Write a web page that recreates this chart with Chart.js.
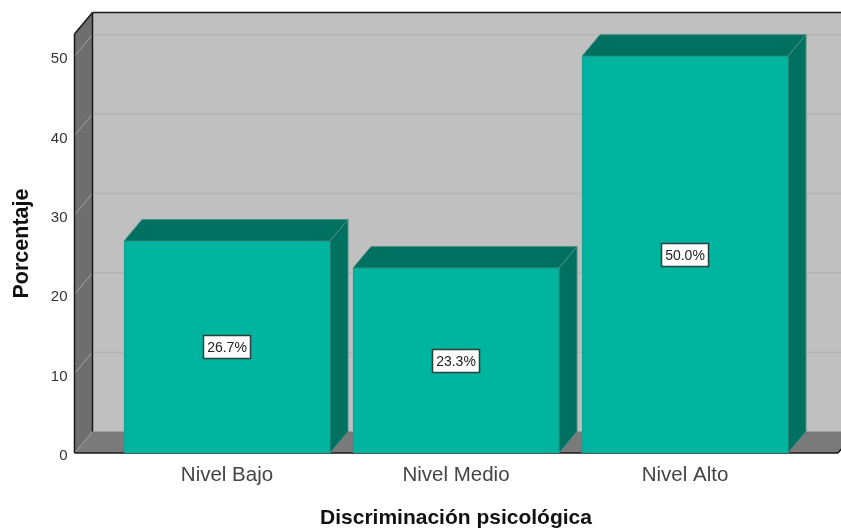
<!DOCTYPE html>
<html>
<head>
<meta charset="utf-8">
<title>Discriminación psicológica</title>
<script src="https://cdn.jsdelivr.net/npm/chart.js@4/dist/chart.umd.min.js"></script>
<style>
  html, body { margin: 0; padding: 0; background: #fff; }
  canvas { display: block; }
</style>
</head>
<body>
<canvas id="chart" width="841" height="529"></canvas>
<script>
const categories = ['Nivel Bajo', 'Nivel Medio', 'Nivel Alto'];
const porcentajes = [26.7, 23.3, 50.0];
const axisMax = 52.8;
const tickStep = 10;

// depth of the fake 3D box, in pixels
const depthX = 18;
const depthY = 21.5;

const FONT = '"Liberation Sans", Arial, sans-serif';

function poly(ctx, pts, fill, stroke) {
  ctx.beginPath();
  pts.forEach((p, i) => i ? ctx.lineTo(p[0], p[1]) : ctx.moveTo(p[0], p[1]));
  ctx.closePath();
  if (fill) { ctx.fillStyle = fill; ctx.fill(); }
  if (stroke) { ctx.strokeStyle = stroke; ctx.lineWidth = 1; ctx.stroke(); }
}

function line(ctx, x1, y1, x2, y2, color, width) {
  ctx.beginPath();
  ctx.moveTo(x1, y1);
  ctx.lineTo(x2, y2);
  ctx.strokeStyle = color;
  ctx.lineWidth = width;
  ctx.stroke();
}

// Walls, floor and gridlines behind the bars
const boxPlugin = {
  id: 'box3d',
  beforeDatasetsDraw(chart) {
    const ctx = chart.ctx;
    const y = chart.scales.y;
    const bottom = y.getPixelForValue(0);
    const top = y.getPixelForValue(axisMax);
    const left = 74.5;
    const right = 838;
    const backL = left + depthX;
    const backR = right + depthX;

    ctx.save();
    poly(ctx, [[backL, top - depthY], [backR, top - depthY], [backR, bottom - depthY], [backL, bottom - depthY]], '#c0c0c0');
    poly(ctx, [[left, top], [backL, top - depthY], [backL, bottom - depthY], [left, bottom]], '#6e6e6e');
    poly(ctx, [[left, bottom], [backL, bottom - depthY], [backR, bottom - depthY], [right, bottom]], '#7a7a7a');

    for (let v = tickStep; v <= axisMax; v += tickStep) {
      const py = y.getPixelForValue(v);
      line(ctx, left, py, backL, py - depthY, '#a3a3a3', 1);
      line(ctx, backL, py - depthY, backR, py - depthY, '#b3b3b3', 1.5);
    }
    line(ctx, left, bottom, backL, bottom - depthY, '#9a9a9a', 1);
    line(ctx, backL, bottom - depthY, backR, bottom - depthY, '#a0a0a0', 1);

    line(ctx, backL, top - depthY, backR, top - depthY, '#1a1a1a', 1.5);
    line(ctx, backL, top - depthY, backL, bottom - depthY, '#1a1a1a', 1.5);
    line(ctx, left, top, backL, top - depthY, '#1a1a1a', 1.5);
    line(ctx, left, top, left, bottom, '#1a1a1a', 1.5);
    line(ctx, left, bottom, right, bottom, '#1a1a1a', 1.5);
    line(ctx, right, bottom, backR, bottom - depthY, '#1a1a1a', 1.5);

    // top and side faces of each bar, the front face is the real bar
    chart.getDatasetMeta(0).data.forEach(bar => {
      const half = bar.width / 2;
      const x1 = bar.x - half;
      const x2 = bar.x + half;
      const yt = bar.y;
      const yb = bar.base;
      poly(ctx, [[x1, yt], [x1 + depthX, yt - depthY], [x2 + depthX, yt - depthY], [x2, yt]], '#007060', '#4a8f85');
      poly(ctx, [[x2, yt], [x2 + depthX, yt - depthY], [x2 + depthX, yb - depthY], [x2, yb]], '#007060', '#4a8f85');
    });
    ctx.restore();
  }
};

// White percentage boxes in the middle of the bars
const labelPlugin = {
  id: 'barLabels',
  afterDatasetsDraw(chart) {
    const ctx = chart.ctx;
    ctx.save();
    ctx.font = '14px ' + FONT;
    ctx.textAlign = 'center';
    ctx.textBaseline = 'middle';
    chart.getDatasetMeta(0).data.forEach((bar, i) => {
      const cy = Math.round((bar.y + bar.base) / 2);
      const cx = Math.round(bar.x);
      ctx.fillStyle = '#fff';
      ctx.fillRect(cx - 23.5, cy - 11.5, 47, 23);
      ctx.strokeStyle = '#2a3f3c';
      ctx.lineWidth = 1.5;
      ctx.strokeRect(cx - 23.5, cy - 11.5, 47, 23);
      ctx.fillStyle = '#222';
      ctx.fillText(porcentajes[i].toFixed(1) + '%', cx, cy + 1);
    });
    ctx.restore();
  }
};

new Chart(document.getElementById('chart'), {
  type: 'bar',
  data: {
    labels: categories,
    datasets: [{
      data: porcentajes,
      backgroundColor: '#00b5a0',
      borderColor: '#1c9c8c',
      borderWidth: 1,
      barThickness: 206
    }]
  },
  options: {
    responsive: false,
    animation: false,
    layout: { padding: { top: 34, right: 41.5, bottom: 0, left: 0 } },
    plugins: {
      legend: { display: false },
      tooltip: { enabled: false }
    },
    scales: {
      x: {
        grid: { display: false, drawTicks: false },
        border: { display: false },
        ticks: { color: '#444', font: { family: FONT, size: 20.5 }, padding: 10, maxRotation: 0 },
        title: {
          display: true,
          text: 'Discriminación psicológica',
          color: '#111',
          font: { family: FONT, size: 21, weight: 'bold' },
          padding: { top: 0, bottom: -2 }
        },
        afterFit(scale) { scale.height = 76; }
      },
      y: {
        min: 0,
        max: axisMax,
        grid: { display: false, drawTicks: false },
        border: { display: false },
        ticks: {
          stepSize: tickStep,
          includeBounds: false,
          color: '#333',
          font: { family: FONT, size: 15 },
          padding: 45,
          labelOffset: 3
        },
        title: {
          display: true,
          text: 'Porcentaje',
          color: '#111',
          font: { family: FONT, size: 21.5, weight: 'bold' },
          padding: { top: 9, bottom: 0 }
        },
        afterFit(scale) {
          scale.width = 112.5;
          scale.paddingTop = 0;
          scale.paddingBottom = 0;
        }
      }
    }
  },
  plugins: [boxPlugin, labelPlugin]
});
</script>
</body>
</html>
